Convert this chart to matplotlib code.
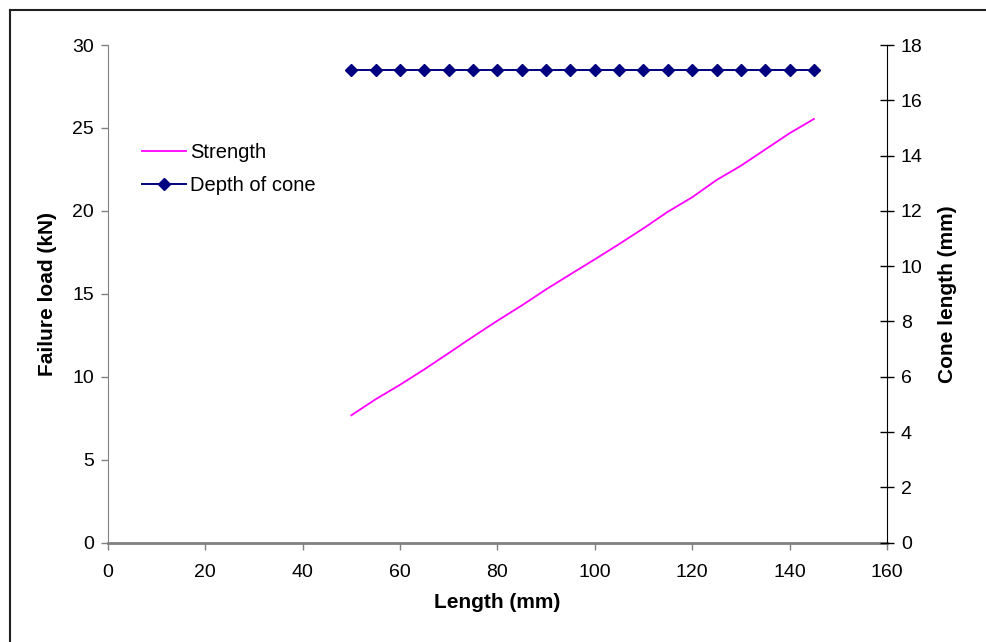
import matplotlib
matplotlib.use('Agg')
import matplotlib.pyplot as plt
from matplotlib.lines import Line2D

plt.rcParams['font.family'] = ['Liberation Sans', 'DejaVu Sans']

# data
length_mm = [50, 55, 60, 65, 70, 75, 80, 85, 90, 95,
             100, 105, 110, 115, 120, 125, 130, 135, 140, 145]
strength_kn = [7.68, 8.65, 9.52, 10.45, 11.43, 12.42, 13.38, 14.30, 15.27, 16.18,
               17.08, 18.00, 18.95, 19.95, 20.82, 21.86, 22.72, 23.70, 24.68, 25.54]
cone_depth_mm = [17.1] * 20

fig = plt.figure(figsize=(9.86, 6.42), dpi=100)
ax = fig.add_axes([0.1095, 0.1547, 0.79, 0.7752])
ax2 = ax.twinx()

l1, = ax.plot(length_mm, strength_kn, color='#FF00FF', lw=1.3, label='Strength')
l2, = ax2.plot(length_mm, cone_depth_mm, color='#000080', lw=1.4,
               marker='D', markersize=6.5, label='Depth of cone')

ax.set_xlim(0, 160)
ax.set_ylim(0, 30)
ax2.set_ylim(0, 18)
ax.set_xticks(range(0, 161, 20))
ax.set_yticks(range(0, 31, 5))
ax2.set_yticks(range(0, 19, 2))

grey = '#808080'
for a in (ax, ax2):
    a.spines['top'].set_visible(False)
ax.spines['left'].set_color(grey)
ax.spines['bottom'].set_color(grey)
ax.spines['bottom'].set_linewidth(2)
ax.spines['right'].set_visible(False)
ax2.spines['left'].set_visible(False)
ax2.spines['bottom'].set_visible(False)
ax2.spines['right'].set_color('black')

ax.tick_params(axis='y', direction='out', length=5, width=1, color=grey,
               labelsize=14, pad=5)
ax.tick_params(axis='x', direction='out', length=5, width=1, color=grey,
               labelsize=14, pad=10)
ax2.tick_params(axis='y', direction='inout', length=10, width=1, color='black',
                labelsize=14, pad=5)

ax.set_xlabel('Length (mm)', fontsize=15, fontweight='bold', labelpad=9)
ax.set_ylabel('Failure load (kN)', fontsize=15, fontweight='bold', labelpad=11)
ax2.set_ylabel('Cone length (mm)', fontsize=15, fontweight='bold', labelpad=11)

ax.legend(handles=[l1, l2], loc='upper left', bbox_to_anchor=(0.02, 0.84),
          frameon=False, fontsize=14.5, handlelength=2.2, handletextpad=0.2,
          labelspacing=0.7)

# outer chart frame (only left and top edges show)
fig.add_artist(Line2D([10 / 986, 10 / 986], [0, 1 - 10 / 642], color='#202020',
                      lw=1.5, transform=fig.transFigure))
fig.add_artist(Line2D([10 / 986, 1], [1 - 10 / 642, 1 - 10 / 642], color='#202020',
                      lw=1.5, transform=fig.transFigure))

fig.savefig('out.png', dpi=100)
